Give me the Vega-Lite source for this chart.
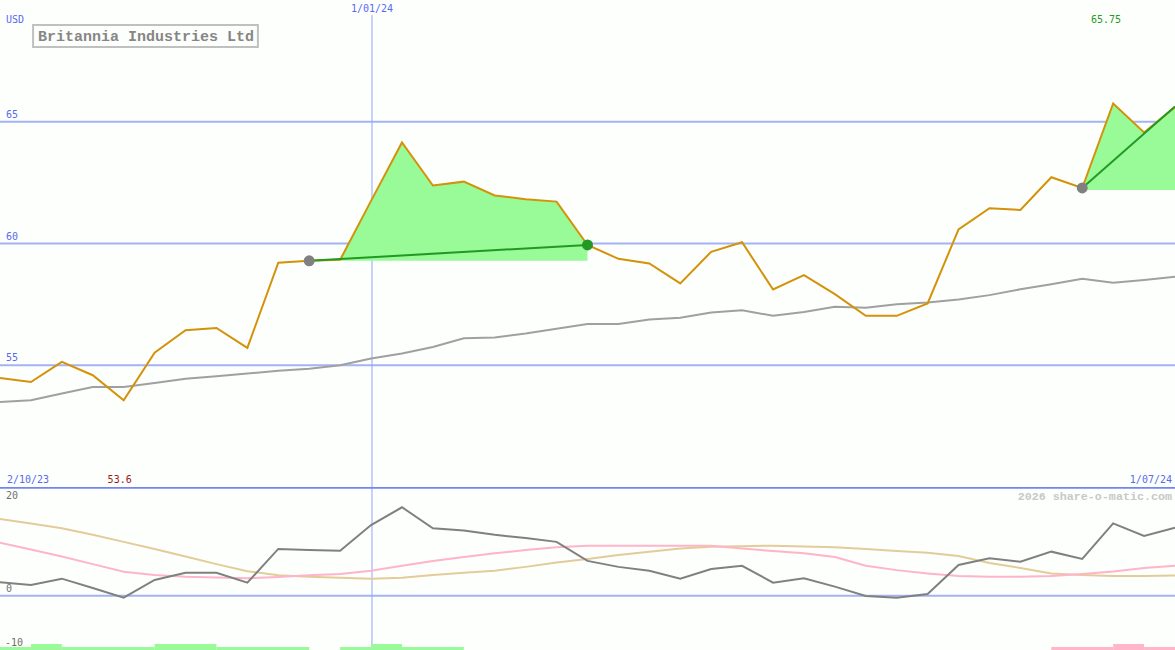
{
  "$schema": "https://vega.github.io/schema/vega-lite/v6.json",
  "background": "#fcfffc",
  "padding": 0,
  "spacing": 0,
  "bounds": "flush",
  "resolve": {"scale": {"color": "independent"}},
  "config": {"view": {"stroke": null}, "concat": {"spacing": 0}},
  "datasets": {
    "series": [
      {"i": 0, "price": 54.48, "ma": 53.49, "osc": 2.47, "sig": 9.75, "slow": 14.1},
      {"i": 1, "price": 54.31, "ma": 53.56, "osc": 1.97, "sig": 8.5, "slow": 13.3},
      {"i": 2, "price": 55.14, "ma": 53.84, "osc": 3.13, "sig": 7.2, "slow": 12.4},
      {"i": 3, "price": 54.59, "ma": 54.11, "osc": 1.42, "sig": 5.8, "slow": 11.2},
      {"i": 4, "price": 53.56, "ma": 54.11, "osc": -0.37, "sig": 4.4, "slow": 9.9},
      {"i": 5, "price": 55.52, "ma": 54.27, "osc": 2.89, "sig": 3.8, "slow": 8.6},
      {"i": 6, "price": 56.44, "ma": 54.45, "osc": 4.23, "sig": 3.5, "slow": 7.2},
      {"i": 7, "price": 56.53, "ma": 54.55, "osc": 4.23, "sig": 3.35, "slow": 5.8},
      {"i": 8, "price": 55.71, "ma": 54.66, "osc": 2.39, "sig": 3.2, "slow": 4.5},
      {"i": 9, "price": 59.21, "ma": 54.77, "osc": 8.6, "sig": 3.45, "slow": 3.75},
      {"i": 10, "price": 59.29, "ma": 54.86, "osc": 8.4, "sig": 3.75, "slow": 3.5},
      {"i": 11, "price": 59.33, "ma": 55.0, "osc": 8.28, "sig": 4.0, "slow": 3.3},
      {"i": 12, "price": 61.75, "ma": 55.28, "osc": 13.0, "sig": 4.6, "slow": 3.1},
      {"i": 13, "price": 64.15, "ma": 55.48, "osc": 16.27, "sig": 5.5, "slow": 3.3},
      {"i": 14, "price": 62.38, "ma": 55.75, "osc": 12.4, "sig": 6.4, "slow": 3.8},
      {"i": 15, "price": 62.54, "ma": 56.11, "osc": 12.0, "sig": 7.1, "slow": 4.2},
      {"i": 16, "price": 61.97, "ma": 56.14, "osc": 11.2, "sig": 7.8, "slow": 4.6},
      {"i": 17, "price": 61.82, "ma": 56.3, "osc": 10.6, "sig": 8.4, "slow": 5.3},
      {"i": 18, "price": 61.72, "ma": 56.5, "osc": 9.9, "sig": 8.9, "slow": 6.1},
      {"i": 19, "price": 59.94, "ma": 56.69, "osc": 6.4, "sig": 9.2, "slow": 6.75},
      {"i": 20, "price": 59.37, "ma": 56.69, "osc": 5.3, "sig": 9.2, "slow": 7.5},
      {"i": 21, "price": 59.18, "ma": 56.88, "osc": 4.6, "sig": 9.2, "slow": 8.1},
      {"i": 22, "price": 58.36, "ma": 56.95, "osc": 3.1, "sig": 9.2, "slow": 8.7},
      {"i": 23, "price": 59.66, "ma": 57.17, "osc": 4.9, "sig": 9.2, "slow": 9.0},
      {"i": 24, "price": 60.05, "ma": 57.26, "osc": 5.5, "sig": 8.7, "slow": 9.1},
      {"i": 25, "price": 58.11, "ma": 57.03, "osc": 2.4, "sig": 8.2, "slow": 9.2},
      {"i": 26, "price": 58.7, "ma": 57.19, "osc": 3.2, "sig": 7.8, "slow": 9.05},
      {"i": 27, "price": 57.92, "ma": 57.4, "osc": 1.66, "sig": 7.1, "slow": 8.9},
      {"i": 28, "price": 57.03, "ma": 57.36, "osc": -0.05, "sig": 5.5, "slow": 8.6},
      {"i": 29, "price": 57.03, "ma": 57.51, "osc": -0.37, "sig": 4.7, "slow": 8.2},
      {"i": 30, "price": 57.54, "ma": 57.58, "osc": 0.3, "sig": 4.1, "slow": 7.9},
      {"i": 31, "price": 60.58, "ma": 57.7, "osc": 5.65, "sig": 3.6, "slow": 7.3},
      {"i": 32, "price": 61.45, "ma": 57.88, "osc": 6.9, "sig": 3.5, "slow": 6.0},
      {"i": 33, "price": 61.38, "ma": 58.12, "osc": 6.26, "sig": 3.5, "slow": 5.1},
      {"i": 34, "price": 62.72, "ma": 58.33, "osc": 8.1, "sig": 3.6, "slow": 4.1},
      {"i": 35, "price": 62.28, "ma": 58.55, "osc": 6.75, "sig": 4.0, "slow": 3.8},
      {"i": 36, "price": 65.75, "ma": 58.39, "osc": 13.3, "sig": 4.45, "slow": 3.6},
      {"i": 37, "price": 64.56, "ma": 58.5, "osc": 11.0, "sig": 5.1, "slow": 3.6},
      {"i": 38, "price": 65.6, "ma": 58.63, "osc": 12.5, "sig": 5.5, "slow": 3.7}
    ],
    "fills": [
      {"seg": "a", "i": 10, "price": 59.29, "base": 59.29},
      {"seg": "a", "i": 11, "price": 59.33, "base": 59.29},
      {"seg": "a", "i": 12, "price": 61.75, "base": 59.29},
      {"seg": "a", "i": 13, "price": 64.15, "base": 59.29},
      {"seg": "a", "i": 14, "price": 62.38, "base": 59.29},
      {"seg": "a", "i": 15, "price": 62.54, "base": 59.29},
      {"seg": "a", "i": 16, "price": 61.97, "base": 59.29},
      {"seg": "a", "i": 17, "price": 61.82, "base": 59.29},
      {"seg": "a", "i": 18, "price": 61.72, "base": 59.29},
      {"seg": "a", "i": 19, "price": 59.94, "base": 59.29},
      {"seg": "b", "i": 35, "price": 62.28, "base": 62.2},
      {"seg": "b", "i": 36, "price": 65.75, "base": 62.2},
      {"seg": "b", "i": 37, "price": 64.56, "base": 62.2},
      {"seg": "b", "i": 38, "price": 65.6, "base": 62.2}
    ],
    "trend": [
      {"seg": "a", "i": 10, "v": 59.29},
      {"seg": "a", "i": 19, "v": 59.94},
      {"seg": "b", "i": 35, "v": 62.28},
      {"seg": "b", "i": 38, "v": 65.63}
    ],
    "dots": [
      {"i": 10, "v": 59.29, "kind": "entry"},
      {"i": 19, "v": 59.94, "kind": "exit"},
      {"i": 35, "v": 62.28, "kind": "entry"}
    ],
    "bars": [
      {"a": 0, "b": 1, "v": -9.45, "kind": "up"},
      {"a": 1, "b": 2, "v": -8.9, "kind": "up"},
      {"a": 2, "b": 5, "v": -9.45, "kind": "up"},
      {"a": 5, "b": 7, "v": -8.9, "kind": "up"},
      {"a": 7, "b": 10, "v": -9.45, "kind": "up"},
      {"a": 11, "b": 12, "v": -9.45, "kind": "up"},
      {"a": 12, "b": 13, "v": -8.9, "kind": "up"},
      {"a": 13, "b": 15, "v": -9.45, "kind": "up"},
      {"a": 34, "b": 36, "v": -9.45, "kind": "down"},
      {"a": 36, "b": 37, "v": -8.9, "kind": "down"},
      {"a": 37, "b": 38, "v": -9.45, "kind": "down"}
    ]
  },
  "vconcat": [
    {
      "width": 1175,
      "height": 487,
      "layer": [
        {
          "data": {"values": [{"g": 55}, {"g": 60}, {"g": 65}]},
          "mark": {"type": "rule", "color": "#a3b3f3", "strokeWidth": 2, "clip": true},
          "encoding": {"y": {"field": "g", "type": "quantitative", "scale": {"domain": [50, 70], "nice": false, "zero": false}, "axis": null}}
        },
        {
          "data": {"values": [{}]},
          "mark": {"type": "rule", "color": "#94a4fa", "strokeWidth": 1, "clip": true},
          "encoding": {
            "x": {"datum": 12.03, "type": "quantitative", "scale": {"domain": [0, 38], "nice": false, "zero": false}, "axis": null},
            "y": {"datum": 69.38, "type": "quantitative"},
            "y2": {"datum": 50}
          }
        },
        {
          "data": {"name": "fills"},
          "mark": {"type": "area", "color": "#98fb98", "opacity": 1, "clip": true},
          "encoding": {
            "x": {"field": "i", "type": "quantitative", "scale": {"domain": [0, 38], "nice": false}},
            "y": {"field": "price", "type": "quantitative"},
            "y2": {"field": "base"},
            "detail": {"field": "seg"}
          }
        },
        {
          "data": {"name": "series"},
          "mark": {"type": "line", "color": "#a0a0a0", "strokeWidth": 2, "clip": true},
          "encoding": {
            "x": {"field": "i", "type": "quantitative", "scale": {"domain": [0, 38], "nice": false}},
            "y": {"field": "ma", "type": "quantitative"}
          }
        },
        {
          "data": {"name": "series"},
          "mark": {"type": "line", "color": "#d4920a", "strokeWidth": 2, "clip": true},
          "encoding": {
            "x": {"field": "i", "type": "quantitative", "scale": {"domain": [0, 38], "nice": false}},
            "y": {"field": "price", "type": "quantitative"}
          }
        },
        {
          "data": {"name": "trend"},
          "mark": {"type": "line", "color": "#229922", "strokeWidth": 2, "clip": true},
          "encoding": {
            "x": {"field": "i", "type": "quantitative", "scale": {"domain": [0, 38], "nice": false}},
            "y": {"field": "v", "type": "quantitative"},
            "detail": {"field": "seg"}
          }
        },
        {
          "data": {"name": "dots"},
          "mark": {"type": "circle", "size": 120, "opacity": 1, "clip": true},
          "encoding": {
            "x": {"field": "i", "type": "quantitative", "scale": {"domain": [0, 38], "nice": false}},
            "y": {"field": "v", "type": "quantitative"},
            "color": {"field": "kind", "type": "nominal", "scale": {"domain": ["entry", "exit"], "range": ["#808080", "#229922"]}, "legend": null}
          }
        },
        {
          "data": {"values": [{}]},
          "mark": {"type": "rect", "fill": "#fcfffc", "stroke": "#c0c0c0", "strokeWidth": 2, "clip": true},
          "encoding": {
            "x": {"datum": 1.07, "type": "quantitative"},
            "x2": {"datum": 8.34},
            "y": {"datum": 68.97, "type": "quantitative"},
            "y2": {"datum": 68.07}
          }
        },
        {
          "data": {"values": [{}]},
          "mark": {"type": "text", "text": "Britannia Industries Ltd", "font": "Liberation Mono", "fontSize": 15, "fontWeight": "bold", "color": "#868686", "align": "left", "baseline": "middle", "clip": true},
          "encoding": {"x": {"datum": 1.23, "type": "quantitative"}, "y": {"datum": 68.52, "type": "quantitative"}}
        },
        {
          "data": {"values": [{}]},
          "mark": {"type": "text", "text": "USD", "font": "DejaVu Sans Mono", "fontSize": 10, "color": "#5a6af0", "align": "left", "baseline": "middle", "clip": true},
          "encoding": {"x": {"datum": 0.19, "type": "quantitative"}, "y": {"datum": 69.18, "type": "quantitative"}}
        },
        {
          "data": {"values": [{}]},
          "mark": {"type": "text", "text": "1/01/24", "font": "DejaVu Sans Mono", "fontSize": 10, "color": "#5a6af0", "align": "center", "baseline": "middle", "clip": true},
          "encoding": {"x": {"datum": 12.03, "type": "quantitative"}, "y": {"datum": 69.63, "type": "quantitative"}}
        },
        {
          "data": {"values": [{}]},
          "mark": {"type": "text", "text": "65.75", "font": "DejaVu Sans Mono", "fontSize": 10, "color": "#229922", "align": "center", "baseline": "middle", "clip": true},
          "encoding": {"x": {"datum": 35.77, "type": "quantitative"}, "y": {"datum": 69.18, "type": "quantitative"}}
        },
        {
          "data": {"values": [{"g": 55}, {"g": 60}, {"g": 65}]},
          "mark": {"type": "text", "font": "DejaVu Sans Mono", "fontSize": 10, "color": "#5a6af0", "align": "left", "baseline": "bottom", "dx": 6, "dy": -2, "clip": true},
          "encoding": {"x": {"datum": 0, "type": "quantitative"}, "y": {"field": "g", "type": "quantitative"}, "text": {"field": "g", "type": "quantitative"}}
        },
        {
          "data": {"values": [{}]},
          "mark": {"type": "text", "text": "2/10/23", "font": "DejaVu Sans Mono", "fontSize": 10, "color": "#5a6af0", "align": "left", "baseline": "bottom", "dx": 7, "dy": -2, "clip": true},
          "encoding": {"x": {"datum": 0, "type": "quantitative"}, "y": {"datum": 50, "type": "quantitative"}}
        },
        {
          "data": {"values": [{}]},
          "mark": {"type": "text", "text": "53.6", "font": "DejaVu Sans Mono", "fontSize": 10, "color": "#a01818", "align": "center", "baseline": "bottom", "dy": -2, "clip": true},
          "encoding": {"x": {"datum": 3.87, "type": "quantitative"}, "y": {"datum": 50, "type": "quantitative"}}
        },
        {
          "data": {"values": [{}]},
          "mark": {"type": "text", "text": "1/07/24", "font": "DejaVu Sans Mono", "fontSize": 10, "color": "#5a6af0", "align": "right", "baseline": "bottom", "dx": -3, "dy": -2, "clip": true},
          "encoding": {"x": {"datum": 38, "type": "quantitative"}, "y": {"datum": 50, "type": "quantitative"}}
        }
      ]
    },
    {
      "width": 1175,
      "height": 163,
      "layer": [
        {
          "data": {"values": [{}]},
          "mark": {"type": "rule", "color": "#a3b3f3", "strokeWidth": 2, "clip": true},
          "encoding": {"y": {"datum": 0, "type": "quantitative", "scale": {"domain": [-10, 20], "nice": false, "zero": false}, "axis": null}}
        },
        {
          "data": {"values": [{}]},
          "mark": {"type": "rule", "color": "#94a4fa", "strokeWidth": 1, "clip": true},
          "encoding": {
            "x": {"datum": 12.03, "type": "quantitative", "scale": {"domain": [0, 38], "nice": false, "zero": false}, "axis": null},
            "y": {"datum": 20, "type": "quantitative"},
            "y2": {"datum": -10}
          }
        },
        {
          "data": {"name": "bars"},
          "mark": {"type": "rect", "opacity": 1, "clip": true},
          "encoding": {
            "x": {"field": "a", "type": "quantitative", "scale": {"domain": [0, 38], "nice": false}},
            "x2": {"field": "b"},
            "y": {"field": "v", "type": "quantitative"},
            "y2": {"datum": -10},
            "color": {"field": "kind", "type": "nominal", "scale": {"domain": ["up", "down"], "range": ["#98fb98", "#ffb6c8"]}, "legend": null}
          }
        },
        {
          "data": {"name": "series"},
          "mark": {"type": "line", "color": "#e3cc9a", "strokeWidth": 2, "clip": true},
          "encoding": {"x": {"field": "i", "type": "quantitative", "scale": {"domain": [0, 38], "nice": false}}, "y": {"field": "slow", "type": "quantitative"}}
        },
        {
          "data": {"name": "series"},
          "mark": {"type": "line", "color": "#ffb4c8", "strokeWidth": 2, "clip": true},
          "encoding": {"x": {"field": "i", "type": "quantitative", "scale": {"domain": [0, 38], "nice": false}}, "y": {"field": "sig", "type": "quantitative"}}
        },
        {
          "data": {"name": "series"},
          "mark": {"type": "line", "color": "#808080", "strokeWidth": 2, "clip": true},
          "encoding": {"x": {"field": "i", "type": "quantitative", "scale": {"domain": [0, 38], "nice": false}}, "y": {"field": "osc", "type": "quantitative"}}
        },
        {
          "data": {"values": [{}]},
          "mark": {"type": "rule", "color": "#7585f0", "strokeWidth": 2, "clip": true},
          "encoding": {"y": {"datum": 19.85, "type": "quantitative"}}
        },
        {
          "data": {"values": [{}]},
          "mark": {"type": "text", "text": "20", "font": "DejaVu Sans Mono", "fontSize": 10, "color": "#707070", "align": "left", "baseline": "top", "dx": 6, "dy": 4, "clip": true},
          "encoding": {"x": {"datum": 0, "type": "quantitative"}, "y": {"datum": 20, "type": "quantitative"}}
        },
        {
          "data": {"values": [{}]},
          "mark": {"type": "text", "text": "0", "font": "DejaVu Sans Mono", "fontSize": 10, "color": "#707070", "align": "left", "baseline": "bottom", "dx": 6, "dy": -2, "clip": true},
          "encoding": {"x": {"datum": 0, "type": "quantitative"}, "y": {"datum": 0, "type": "quantitative"}}
        },
        {
          "data": {"values": [{}]},
          "mark": {"type": "text", "text": "-10", "font": "DejaVu Sans Mono", "fontSize": 10, "color": "#707070", "align": "left", "baseline": "bottom", "dx": 5, "dy": -2, "clip": true},
          "encoding": {"x": {"datum": 0, "type": "quantitative"}, "y": {"datum": -10, "type": "quantitative"}}
        },
        {
          "data": {"values": [{}]},
          "mark": {"type": "text", "text": "2026 share-o-matic.com", "font": "Liberation Mono", "fontSize": 11.7, "fontWeight": "bold", "color": "#c8c8c8", "align": "right", "baseline": "top", "dx": -3, "dy": 4, "clip": true},
          "encoding": {"x": {"datum": 38, "type": "quantitative"}, "y": {"datum": 20, "type": "quantitative"}}
        }
      ]
    }
  ]
}
